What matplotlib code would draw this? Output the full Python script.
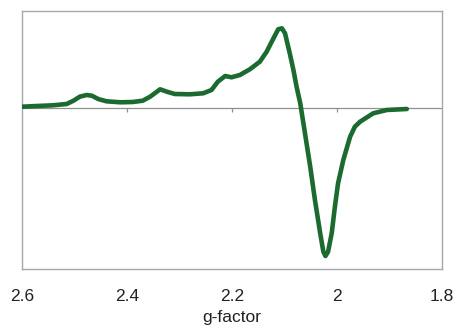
import numpy as np
import matplotlib
matplotlib.use("Agg")
import matplotlib.pyplot as plt

# EPR spectrum (g-factor, arbitrary intensity)
g_factor = [2.600, 2.572, 2.541, 2.515, 2.502, 2.490, 2.477, 2.467, 2.455, 2.439,
            2.413, 2.389, 2.370, 2.356, 2.343, 2.337, 2.324, 2.309, 2.280, 2.255,
            2.239, 2.227, 2.213, 2.201, 2.185, 2.166, 2.147, 2.134, 2.121, 2.112,
            2.105, 2.099, 2.090, 2.083, 2.077, 2.070, 2.061, 2.051, 2.042, 2.032,
            2.026, 2.022, 2.017, 2.010, 2.004, 1.998, 1.988, 1.975, 1.966, 1.956,
            1.931, 1.905, 1.867]
intensity = [0.8, 1.5, 2.2, 3.5, 6.8, 10.8, 12.5, 11.8, 8.5, 6.2,
             5.2, 5.5, 6.8, 10.8, 15.8, 18.2, 15.8, 13.5, 13.2, 14.2,
             17.5, 25.8, 31.5, 30.2, 32.5, 38.2, 45.8, 55.8, 69.2, 78.2,
             79.2, 74.2, 54.2, 37.5, 20.8, 4.2, -25.8, -59.2, -92.5, -125.8,
             -144.2, -148.5, -144.2, -125.5, -99.2, -75.8, -52.5, -29.2, -19.2, -14.2,
             -5.8, -2.5, -1.5]
x_ticks = [2.6, 2.4, 2.2, 2.0, 1.8]
x_labels = ["2.6", "2.4", "2.2", "2", "1.8"]

plt.rcParams['font.family'] = ['Liberation Sans', 'DejaVu Sans']

fig = plt.figure(figsize=(4.56, 3.32), dpi=100)
ax = fig.add_axes([22 / 456, 63 / 332, 420 / 456, 258 / 332])

ax.plot(g_factor, intensity, color='#1b6a30', lw=3.3,
        solid_joinstyle='round', solid_capstyle='round', zorder=3)

# zero line with small tick marks hanging below it
ax.axhline(0, color='#909090', lw=0.9, zorder=2)
ax.vlines([2.4, 2.2, 2.0], -4, 0, color='#909090', lw=0.9, zorder=2)

ax.set_xlim(2.6, 1.8)
ax.set_ylim(-161.5, 96.5)
ax.set_xticks(x_ticks)
ax.set_xticklabels(x_labels, fontsize=12.5, color='#222222')
ax.tick_params(axis='x', length=0, pad=14.5)
ax.set_yticks([])
for s in ax.spines.values():
    s.set_color('#a8a8a8')
    s.set_linewidth(1.0)

ax.set_xlabel('g-factor', fontsize=12.5, labelpad=4, color='#222222')

fig.savefig('out.png', dpi=100)
